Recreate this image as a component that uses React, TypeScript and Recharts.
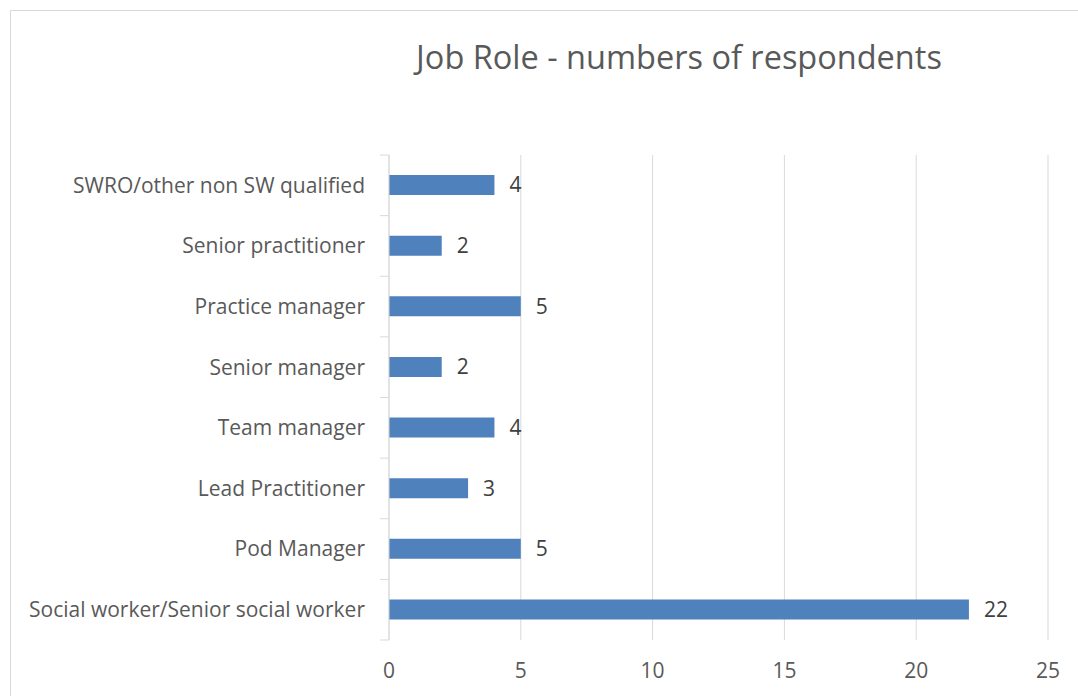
import { BarChart, Bar, XAxis, YAxis, CartesianGrid, LabelList } from 'recharts';

const roles = [
  'SWRO/other non SW qualified',
  'Senior practitioner',
  'Practice manager',
  'Senior manager',
  'Team manager',
  'Lead Practitioner',
  'Pod Manager',
  'Social worker/Senior social worker',
];
const counts = [4, 2, 5, 2, 4, 3, 5, 22];
const xTicks = [0, 5, 10, 15, 20, 25];

const FONT = '"Open Sans", sans-serif';
const TEXT = '#595959';
const GRID = '#d9d9d9';
const BAR = '#4f81bd';

const PLOT_LEFT = 389;
const PLOT_TOP = 155;
const PLOT_BOTTOM = 640;
const BAND = (PLOT_BOTTOM - PLOT_TOP) / roles.length;

const data = roles.map((name, i) => ({ name, value: counts[i] }));

// category label + short tick marks at band edges, like Excel
function RoleTick(props: any) {
  const { y, payload, index } = props;
  return (
    <g>
      <line x1={PLOT_LEFT - 9} x2={PLOT_LEFT} y1={y - BAND / 2} y2={y - BAND / 2} stroke={GRID} />
      {index === roles.length - 1 && (
        <line x1={PLOT_LEFT - 9} x2={PLOT_LEFT} y1={y + BAND / 2} y2={y + BAND / 2} stroke={GRID} />
      )}
      <text x={PLOT_LEFT - 24} y={y} dy="0.35em" textAnchor="end" fill={TEXT} fontSize={21} fontFamily={FONT}>
        {payload.value}
      </text>
    </g>
  );
}

export default function App() {
  return (
    <div style={{ position: 'absolute', left: 0, top: 0, width: 1078, height: 696, background: '#fff', overflow: 'hidden' }}>
      <div style={{ position: 'absolute', left: 10, top: 10, width: 1100, height: 720, border: `1px solid ${GRID}` }} />
      <div
        style={{
          position: 'absolute', left: 379, top: 35, width: 600, textAlign: 'center',
          fontFamily: FONT, fontSize: 32.5, color: TEXT, lineHeight: '44px',
        }}
      >
        Job Role - numbers of respondents
      </div>
      <div style={{ position: 'absolute', left: 0, top: 0 }}>
        <BarChart
          width={1078}
          height={696}
          data={data}
          layout="vertical"
          margin={{ top: PLOT_TOP, right: 30, bottom: 0, left: 0 }}
        >
          <CartesianGrid horizontal={false} stroke={GRID} />
          <XAxis
            type="number"
            domain={[0, 25]}
            ticks={xTicks}
            height={56}
            axisLine={false}
            tickLine={false}
            tickMargin={17}
            tick={{ fill: TEXT, fontSize: 21, fontFamily: FONT }}
          />
          <YAxis
            type="category"
            dataKey="name"
            width={PLOT_LEFT}
            axisLine={{ stroke: GRID }}
            tickLine={false}
            interval={0}
            tick={<RoleTick />}
          />
          <Bar dataKey="value" fill={BAR} barSize={20} isAnimationActive={false}>
            <LabelList dataKey="value" position="right" offset={15} fill="#404040" fontSize={21} fontFamily={FONT} />
          </Bar>
        </BarChart>
      </div>
    </div>
  );
}
